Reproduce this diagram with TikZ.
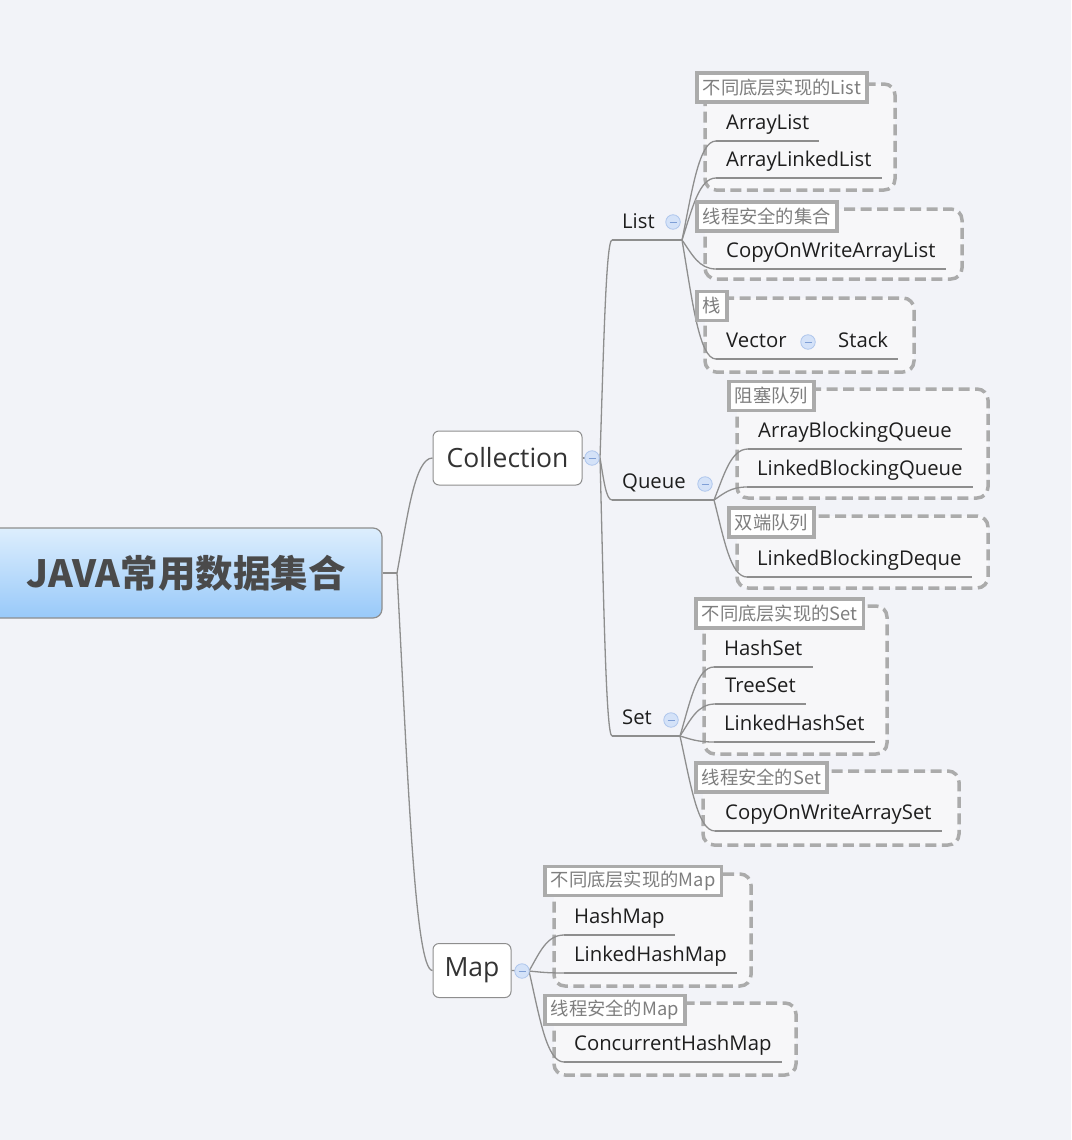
\documentclass[tikz,border=0pt]{standalone}
\usepackage{fontspec}
\setmainfont{Open Sans}
\newfontfamily\cjk{Noto Sans CJK SC}
\usetikzlibrary{calc}
\definecolor{bg}{HTML}{F2F3F8}
\definecolor{linegray}{HTML}{8E8E8E}
\definecolor{grpgray}{HTML}{ABABAB}
\definecolor{grpfill}{HTML}{F7F7F9}
\definecolor{labtext}{HTML}{7E7E7E}
\definecolor{itemtext}{HTML}{1E1E1E}
\definecolor{minfill}{HTML}{D4E2F8}
\definecolor{mindraw}{HTML}{AFC6EC}
\definecolor{mindash}{HTML}{7F9FD6}
\definecolor{roottop}{HTML}{DDEEFD}
\definecolor{rootbot}{HTML}{98C9F9}
\definecolor{roottext}{HTML}{4A4A4A}
\definecolor{boxtext}{HTML}{333333}
\tikzset{
  conn/.style={draw=linegray, line width=1.3},
  fan/.style={to path={let \p1=(\tikztostart),\p2=(\tikztotarget) in
     .. controls ({\x1+0.3*(\x2-\x1)},{\y1+0.5*(\y2-\y1)}) and ({\x1+0.5*(\x2-\x1)},{\y2}) .. (\tikztotarget)}},
  grp/.style={draw=grpgray, fill=grpfill, line width=3.5, dash pattern=on 11pt off 5.5pt, rounded corners=11},
  rootn/.style={draw=linegray, line width=1.2, rounded corners=9, minimum width=392, minimum height=90,
     top color=roottop, bottom color=rootbot, text=roottext,
     font=\fontsize{37.5}{42}\selectfont},
  bigbox/.style={draw=linegray, line width=1, fill=white, rounded corners=6, minimum width=149, minimum height=54,
     font=\fontsize{26.5}{30}\selectfont, text=boxtext},
  itemn/.style={anchor=south west, inner xsep=10pt, inner ysep=6pt, text height=15pt, text depth=5pt,
     font=\fontsize{20.3}{24}\selectfont, text=itemtext},
  labn/.style={anchor=west, draw=grpgray, line width=3.5, fill=white, inner xsep=6pt, inner ysep=2pt,
     minimum height=29, font=\cjk\fontsize{18.3}{22}\selectfont, text=labtext},
  minusc/.style={circle, minimum size=14.5, inner sep=0pt, fill=minfill, draw=mindraw, line width=0.8,
     path picture={\draw[mindash, line width=0.9] ([xshift=-3.5pt]path picture bounding box.center) -- ([xshift=3.5pt]path picture bounding box.center);}}
}
\begin{document}
\begin{tikzpicture}[x=1pt,y=-1pt]
\useasboundingbox (0,0) rectangle (1071,1140);
\clip (0,0) rectangle (1071,1140);
\fill[bg] (0,0) rectangle (1071,1140);

% group boundaries
\foreach \a/\b/\c/\d in {705/84/895/190, 705/209/962/279, 705/298/914/372,
  737/389/988/498, 737/516/988/588, 704/606/887/754, 703/771/959/845,
  554/874/751/986, 554/1003/796/1075}
  \draw[grp] (\a,\b) rectangle (\c,\d);

% main nodes
\node[rootn] (root) at (186,573) {\cjk\bfseries JAVA常用数据集合};
\node[bigbox] (coll) at (507.5,458) {Collection};
\node[bigbox, minimum width=78] (map) at (472,970.5) {Map};

\node[itemn] (list) at (612,240) {List};
\node[itemn] (queue) at (612,500) {Queue};
\node[itemn] (set) at (612,736) {Set};

\coordinate (rj) at (397,573);
\coordinate (collj) at (600,458);
\coordinate (mapj) at (529,971);
\coordinate (listend) at (682,240);
\coordinate (queueend) at (714,500);
\coordinate (setend) at (680,736);

% leaves
\node[itemn] (al) at (716,141) {ArrayList};
\node[itemn] (all) at (716,178) {ArrayLinkedList};
\node[itemn] (cowal) at (716,269) {CopyOnWriteArrayList};
\node[itemn] (vec) at (716,359) {Vector};
\node[itemn] (stack) at (828,359) {Stack};
\node[itemn] (abq) at (748,449) {ArrayBlockingQueue};
\node[itemn] (lbq) at (747,487) {LinkedBlockingQueue};
\node[itemn] (lbd) at (747,577) {LinkedBlockingDeque};
\node[itemn] (hs) at (714,667) {HashSet};
\node[itemn] (ts) at (715,704) {TreeSet};
\node[itemn] (lhs) at (714,742) {LinkedHashSet};
\node[itemn] (cowas) at (715,831) {CopyOnWriteArraySet};
\node[itemn] (hm) at (564,935) {HashMap};
\node[itemn] (lhm) at (564,973) {LinkedHashMap};
\node[itemn] (chm) at (564,1062) {ConcurrentHashMap};

% connectors
\draw[conn] (root.east) -- (rj);
\draw[conn] (rj) to[fan] (coll.west);
\draw[conn] (rj) to[fan] (map.west);
\draw[conn] (coll.east) -- (collj);
\draw[conn] (collj) to[fan] (list.south west);
\draw[conn] (collj) to[fan] (queue.south west);
\draw[conn] (collj) to[fan] (set.south west);
\draw[conn] (list.south west) -- (listend);
\draw[conn] (queue.south west) -- (queueend);
\draw[conn] (set.south west) -- (setend);
\foreach \q in {al,all,cowal,vec} \draw[conn] (listend) to[fan] (\q.south west);
\foreach \q in {abq,lbq,lbd} \draw[conn] (queueend) to[fan] (\q.south west);
\foreach \q in {hs,ts,lhs,cowas} \draw[conn] (setend) to[fan] (\q.south west);
\draw[conn] (map.east) -- (mapj);
\foreach \q in {hm,lhm,chm} \draw[conn] (mapj) to[fan] (\q.south west);
\foreach \q in {al,all,cowal,abq,lbq,lbd,hs,ts,lhs,cowas,hm,lhm,chm}
  \draw[conn] (\q.south west) -- (\q.south east);
\draw[conn] (vec.south west) -- (stack.south east);

% group labels
\node[labn] (g1) at (695,87.5) {不同底层实现的List};
\node[labn] (g2) at (695,216.5) {线程安全的集合};
\node[labn] (g3) at (695,306) {栈};
\node[labn] (g4) at (727,396) {阻塞队列};
\node[labn] (g5) at (727,522.5) {双端队列};
\node[labn] (g6) at (694,613.5) {不同底层实现的Set};
\node[labn] (g7) at (694,777.5) {线程安全的Set};
\node[labn] (g8) at (543,881) {不同底层实现的Map};
\node[labn] (g9) at (543,1010) {线程安全的Map};

% collapse markers
\node[minusc] (collm) at (592,458) {};
\node[minusc] (listm) at (673,222) {};
\node[minusc] (queuem) at (705,484) {};
\node[minusc] (setm) at (671,720) {};
\node[minusc] (vecm) at (808,342) {};
\node[minusc] (mapm) at (522,971) {};
\end{tikzpicture}
\end{document}
